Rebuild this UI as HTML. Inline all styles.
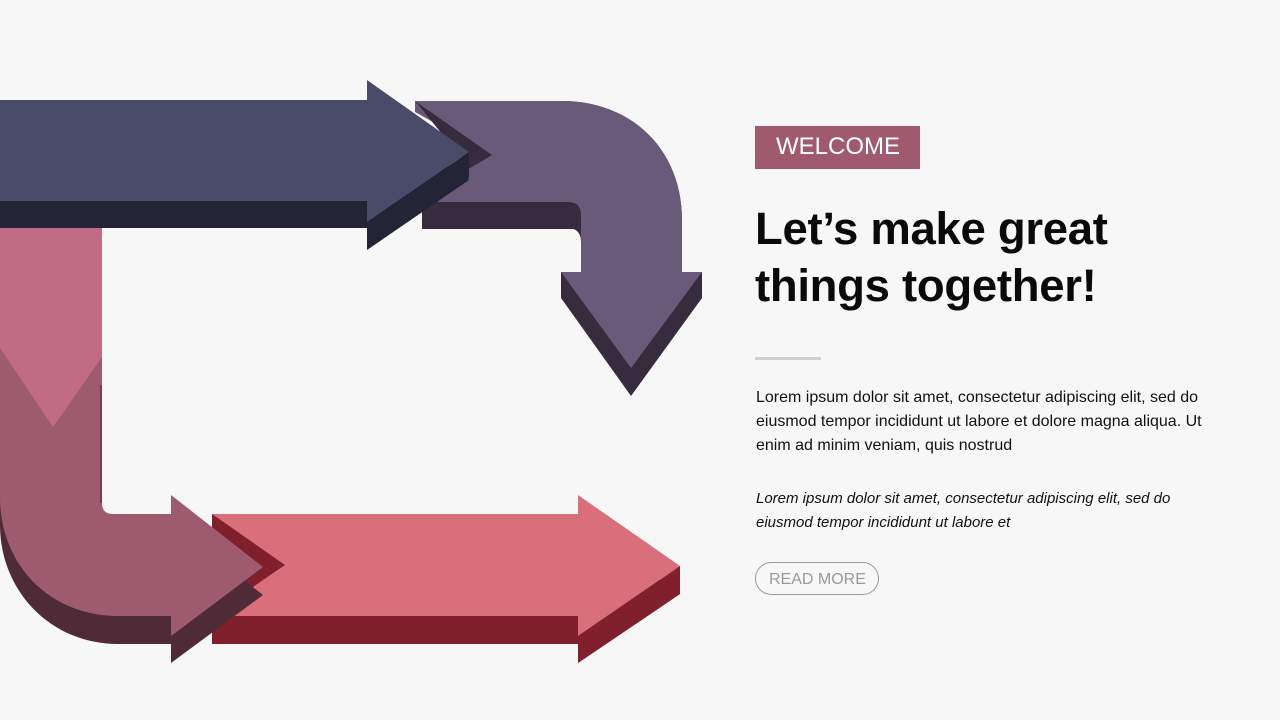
<!DOCTYPE html>
<html><head><meta charset="utf-8"><style>
body{margin:0;width:1280px;height:720px;background:#f7f7f7;overflow:hidden;position:relative;font-family:"Liberation Sans",sans-serif}
.t{position:absolute;white-space:nowrap}
</style></head><body>
<svg width="1280" height="720" style="position:absolute;left:0;top:0">
<!-- purple bent arrow -->
<rect x="422" y="200" width="159" height="29" rx="0" fill="#372c3d"/>
<path d="M561,272 L561,298 L631,396 L702,298 L702,272 Z" fill="#372c3d"/>
<path d="M415,101 L562,101 C632,101 682,150 682,220 L682,272 L702,272 L631,368 L561,272 L581,272 L581,242 Q581,228 567,228 L423,228 L423,202 L469,155 Z" fill="#372c3d"/>
<path d="M415,101 L562,101 C632,101 682,150 682,220 L682,272 L702,272 L631,368 L561,272 L581,272 L581,215 Q581,202 568,202 L423,202 L470,168 L492,155 L415,112 Z" fill="#6a5a7a"/>
<path d="M415,101 L492,155 L470,168 Z" fill="#372c3d"/>
<!-- navy arrow -->
<path d="M0,128 L367,128 L367,108 L469,180 L367,250 L367,228 L0,228 Z" fill="#232536"/>
<path d="M0,100 L367,100 L367,80 L469,152 L367,222 L367,201 L0,201 Z" fill="#4a4b68"/>
<path d="M469,152 L469,178 L367,248 L367,222 Z" fill="#232536"/>
<!-- red arrow -->
<path d="M212,542 L578,542 L578,523 L680,594 L578,663 L578,644 L212,644 Z" fill="#80202c"/>
<path d="M212,527 L578,514 L578,495 L680,566 L578,636 L578,616 L212,616 L263,580 Z" fill="#d86f7a"/>
<path d="M212,514 L578,514 L578,530 L212,530 Z" fill="#d86f7a"/>
<path d="M212,514 L285,565 L263,580 L212,530 Z" fill="#80202c"/>
<path d="M680,566 L680,594 L578,663 L578,636 Z" fill="#80202c"/>
<!-- mauve bent arrow -->
<path d="M0,300 L102,300 L102,531 L171,542 L171,523 L263,595 L171,663 L171,644 L118,644 C50,644 0,590 0,525 Z" fill="#4f2b38"/>
<path d="M0,300 L102,300 L102,503 Q102,514 113,514 L171,514 L171,495 L263,567 L171,636 L171,616 L118,616 C50,616 0,565 0,497 Z" fill="#9e5b70"/>
<rect x="100" y="385" width="2" height="118" fill="#7a3c50"/>
<!-- pink vertical -->
<path d="M0,228 L102,228 L102,357 L53,427 L0,348 Z" fill="#c16b85"/>
</svg>
<div style="position:absolute;left:755px;top:126px;width:165px;height:43px;background:#a05a70"></div>
<div class="t" style="left:776px;top:131px;font-size:24px;color:#fff;line-height:32px">WELCOME</div>
<div class="t" style="left:755px;top:200px;font-size:45.5px;font-weight:bold;color:#0a0a0a;line-height:57px;letter-spacing:-0.3px">Let’s make great<br>things together!</div>
<div style="position:absolute;left:755px;top:357px;width:66px;height:3px;background:#d0d0d0"></div>
<div class="t" style="left:756px;top:386px;font-size:16px;color:#111;line-height:24px">Lorem ipsum dolor sit amet, consectetur adipiscing elit, sed do<br>eiusmod tempor incididunt ut labore et dolore magna aliqua. Ut<br>enim ad minim veniam, quis nostrud</div>
<div class="t" style="left:756px;top:487px;font-size:15px;font-style:italic;color:#111;line-height:24px">Lorem ipsum dolor sit amet, consectetur adipiscing elit, sed do<br>eiusmod tempor incididunt ut labore et</div>
<div style="position:absolute;left:755px;top:562px;width:122px;height:31px;border:1px solid #999;border-radius:17px"></div>
<div class="t" style="left:769px;top:570px;font-size:16px;color:#999;line-height:20px">READ MORE</div>
</body></html>
